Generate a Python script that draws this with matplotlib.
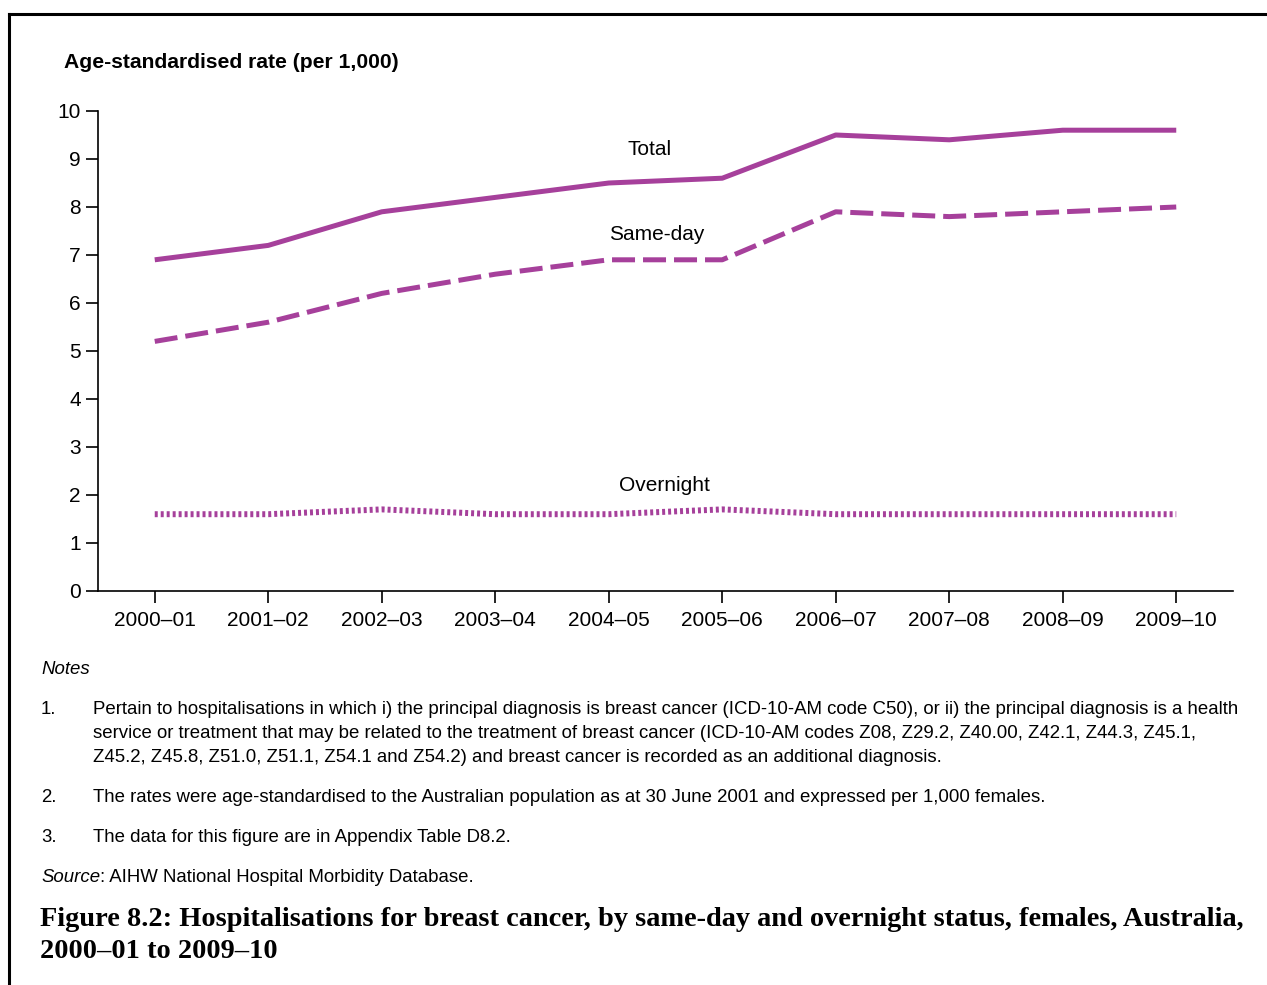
import matplotlib
matplotlib.use("Agg")
import matplotlib.pyplot as plt
from matplotlib.lines import Line2D

plt.rcParams['font.family'] = ['Liberation Sans', 'DejaVu Sans']

years = ["2000–01", "2001–02", "2002–03", "2003–04", "2004–05",
         "2005–06", "2006–07", "2007–08", "2008–09", "2009–10"]
total = [6.9, 7.2, 7.9, 8.2, 8.5, 8.6, 9.5, 9.4, 9.6, 9.6]
same_day = [5.2, 5.6, 6.2, 6.6, 6.9, 6.9, 7.9, 7.8, 7.9, 8.0]
overnight = [1.6, 1.6, 1.7, 1.6, 1.6, 1.7, 1.6, 1.6, 1.6, 1.6]
yticks = list(range(0, 11))

W, H = 1267, 985
fig = plt.figure(figsize=(W / 100, H / 100), dpi=100)
ax = fig.add_axes([98 / W, (H - 591) / H, (1233 - 98) / W, (591 - 111) / H])

color = '#A6409B'
x = list(range(len(years)))
ax.plot(x, total, color=color, lw=3.6, solid_capstyle='butt')
ax.plot(x, same_day, color=color, lw=3.6, dashes=(4.6, 1.6), dash_capstyle='butt')
ax.plot(x, overnight, color=color, lw=4.3, dashes=(0.5, 0.5), dash_capstyle='butt')

ax.set_xlim(-0.5, 9.5)
ax.set_ylim(0, 10)
ax.set_xticks(x)
ax.set_xticklabels(years, fontsize=15)
ax.set_yticks(yticks)
ax.set_yticklabels([str(v) for v in yticks], fontsize=15)
for s in ['top', 'right']:
    ax.spines[s].set_visible(False)
for s in ['left', 'bottom']:
    ax.spines[s].set_linewidth(1.2)
ax.tick_params(axis='both', direction='out', length=8.5, width=1.2, pad=4)
ax.tick_params(axis='x', pad=6)

ax.text(4.36, 9.2, "Total", fontsize=15, ha='center', va='center')
ax.text(4.42, 7.42, "Same-day", fontsize=15, ha='center', va='center')
ax.text(4.49, 2.2, "Overnight", fontsize=15, ha='center', va='center')

def fy(py):
    return 1 - py / H

fig.text(64 / W, fy(63), "Age-standardised rate (per 1,000)", fontsize=15.2,
         fontweight='bold', va='center', ha='left')

NS = 13.45
fig.text(41 / W, fy(669), "Notes", fontsize=NS, style='italic', va='center')
notes = [
    ("1.", ["Pertain to hospitalisations in which i) the principal diagnosis is breast cancer (ICD-10-AM code C50), or ii) the principal diagnosis is a health",
            "service or treatment that may be related to the treatment of breast cancer (ICD-10-AM codes Z08, Z29.2, Z40.00, Z42.1, Z44.3, Z45.1,",
            "Z45.2, Z45.8, Z51.0, Z51.1, Z54.1 and Z54.2) and breast cancer is recorded as an additional diagnosis."], 709),
    ("2.", ["The rates were age-standardised to the Australian population as at 30 June 2001 and expressed per 1,000 females."], 797),
    ("3.", ["The data for this figure are in Appendix Table D8.2."], 837),
]
for num, lines, y0 in notes:
    fig.text(41 / W, fy(y0), num, fontsize=NS, va='center')
    for i, ln in enumerate(lines):
        fig.text(93 / W, fy(y0 + 24 * i), ln, fontsize=NS, va='center')

src = fig.text(41 / W, fy(877), "Source", fontsize=NS, style='italic', va='center')
fig.canvas.draw()
bb = src.get_window_extent(renderer=fig.canvas.get_renderer())
fig.text(bb.x1 / W, fy(877), ": AIHW National Hospital Morbidity Database.", fontsize=NS, va='center')

fig.text(40 / W, fy(920), "Figure 8.2: Hospitalisations for breast cancer, by same-day and overnight status, females, Australia,",
         fontsize=20.4, fontweight='bold', family='Liberation Serif', va='center')
fig.text(40 / W, fy(952), "2000–01 to 2009–10",
         fontsize=20.4, fontweight='bold', family='Liberation Serif', va='center')

fig.add_artist(Line2D([9 / W, 1], [fy(14), fy(14)], color='black', lw=2.2, transform=fig.transFigure))
fig.add_artist(Line2D([9 / W, 9 / W], [fy(14), 0], color='black', lw=2.2, transform=fig.transFigure))

fig.savefig("out.png", dpi=100)
